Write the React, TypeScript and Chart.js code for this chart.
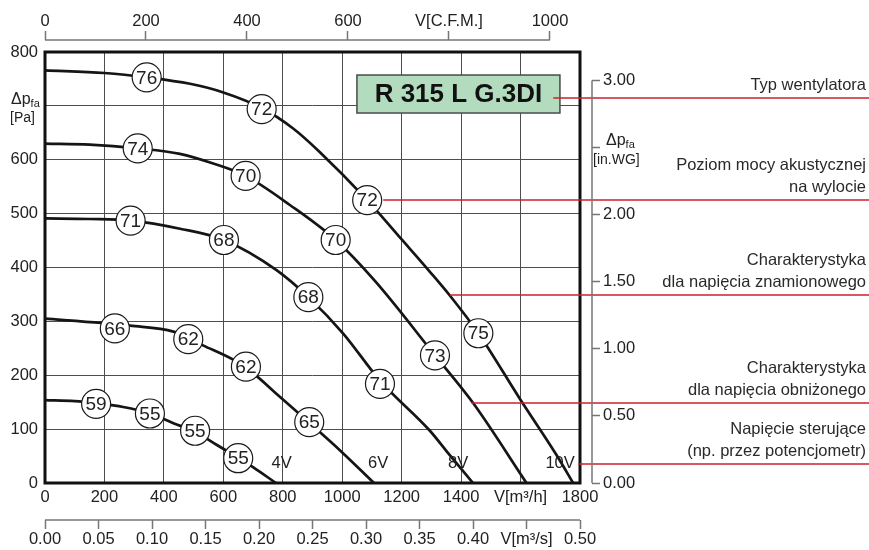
import React, { useEffect, useRef } from 'react';
import Chart from 'chart.js/auto';

// ---------- data (flow in m³/h, pressure in Pa) ----------
const curve10V_Q = [0, 200, 342, 488, 600, 729, 835, 925, 1084, 1200, 1295, 1362, 1458, 1598, 1721, 1777];
const curve10V_P = [766, 761, 753, 741, 725, 696, 658, 614, 525, 452, 392, 348, 278, 156, 52, 0];

const curve9V_Q = [0, 150, 312, 454, 566, 675, 824, 978, 1110, 1312, 1441, 1620];
const curve9V_P = [630, 628, 621, 611, 593, 570, 516, 451, 375, 237, 148, 0];

const curve8V_Q = [0, 150, 288, 454, 602, 779, 886, 1004, 1127, 1295, 1357, 1440];
const curve8V_P = [491, 490, 487, 472, 451, 395, 345, 277, 190, 97, 55, 0];

const curve6V_Q = [0, 191, 286, 432, 533, 639, 700, 790, 889, 992, 1107];
const curve6V_P = [305, 297, 292, 281, 255, 227, 204, 160, 112, 61, 0];

const curve4V_Q = [0, 100, 172, 263, 353, 432, 505, 577, 650, 701, 777];
const curve4V_P = [154, 152, 148, 141, 129, 111, 95, 71, 47, 29, 0];

// sound power level bubbles
const bubbleQ = [342, 729, 1084, 1458, 312, 675, 978, 1312, 288, 602, 886, 1127, 235, 482, 676, 889, 172, 353, 505, 650];
const bubbleP = [753, 694, 525, 278, 621, 570, 451, 237, 487, 451, 345, 184, 287, 267, 216, 113, 147, 129, 97, 46];
const bubbleLabels = ['76', '72', '72', '75', '74', '70', '70', '73', '71', '68', '68', '71', '66', '62', '62', '65', '59', '55', '55', '55'];

// control voltage labels
const voltageLabels = ['4V', '6V', '8V', '10V'];
const voltageQ = [796, 1121, 1390, 1733];
const voltageP = [37, 37, 37, 37];

// ticks
const flowTicks = [0, 200, 400, 600, 800, 1000, 1200, 1400, 1600, 1800];
const flowTickLabels = ['0', '200', '400', '600', '800', '1000', '1200', '1400', 'V[m³/h]', '1800'];
const cfmTicks = [0, 200, 400, 600, 800, 1000];
const cfmTickLabels = ['0', '200', '400', '600', 'V[C.F.M.]', '1000'];
const m3sTicks = [0, 0.05, 0.1, 0.15, 0.2, 0.25, 0.3, 0.35, 0.4, 0.45, 0.5];
const m3sTickLabels = ['0.00', '0.05', '0.10', '0.15', '0.20', '0.25', '0.30', '0.35', '0.40', 'V[m³/s]', '0.50'];
const paTicks = [0, 100, 200, 300, 400, 500, 600, 700, 800];
const paTickLabels = ['0', '100', '200', '300', '400', '500', '600', '', '800'];
const inwgTicks = [0, 0.5, 1, 1.5, 2, 2.5, 3];
const inwgTickLabels = ['0.00', '0.50', '1.00', '1.50', '2.00', '', '3.00'];

// model / annotations
const modelName = 'R 315 L G.3DI';
const modelQ = 1391;
const modelP = 722;
const leaderQ = [1710, 1138, 1362, 1435, 1794];
const leaderP = [714, 525, 349, 149, 35];
const leaderTexts = [
  ['Typ wentylatora'],
  ['Poziom mocy akustycznej', 'na wylocie'],
  ['Charakterystyka', 'dla napięcia znamionowego'],
  ['Charakterystyka', 'dla napięcia obniżonego'],
  ['Napięcie sterujące', '(np. przez potencjometr)'],
];

const FLOW_MAX = 1800;
const PA_MAX = 800;
const CFM_PER_M3H = 1.699011;
const PA_PER_INWG = 249.089;

const FONT = "'Liberation Sans', Arial, Helvetica, sans-serif";
const TEXT = '#222';
const AXIS_GRAY = '#767676';

function drawDp(ctx: CanvasRenderingContext2D, x: number, y: number) {
  ctx.textAlign = 'left';
  ctx.textBaseline = 'middle';
  ctx.font = `16px ${FONT}`;
  ctx.fillText('Δp', x, y);
  const w = ctx.measureText('Δp').width;
  ctx.font = `11px ${FONT}`;
  ctx.fillText('fa', x + w, y + 4);
}

const overlay = {
  id: 'overlay',
  beforeDatasetsDraw(chart: any) {
    const { ctx, chartArea: a } = chart;
    ctx.save();
    ctx.strokeStyle = '#111';
    ctx.lineWidth = 3;
    ctx.strokeRect(a.left, a.top, a.right - a.left, a.bottom - a.top);
    ctx.restore();
  },
  afterDatasetsDraw(chart: any) {
    const { ctx } = chart;
    const sx = chart.scales.x;
    const sy = chart.scales.y;
    ctx.save();

    // bubble labels
    const meta = chart.getDatasetMeta(0);
    ctx.fillStyle = TEXT;
    ctx.textAlign = 'center';
    ctx.textBaseline = 'middle';
    ctx.font = `19px ${FONT}`;
    meta.data.forEach((pt: any, i: number) => {
      ctx.fillText(bubbleLabels[i], pt.x, pt.y + 1);
    });

    // voltage labels
    ctx.font = `16.5px ${FONT}`;
    voltageLabels.forEach((t, i) => {
      ctx.fillText(t, sx.getPixelForValue(voltageQ[i]), sy.getPixelForValue(voltageP[i]));
    });

    // model box
    const bx = sx.getPixelForValue(modelQ);
    const by = sy.getPixelForValue(modelP);
    const bw = 203;
    const bh = 38;
    ctx.fillStyle = '#b3dcbf';
    ctx.fillRect(bx - bw / 2, by - bh / 2, bw, bh);
    ctx.strokeStyle = '#4a4a4a';
    ctx.lineWidth = 1.5;
    ctx.strokeRect(bx - bw / 2, by - bh / 2, bw, bh);
    ctx.fillStyle = '#111';
    ctx.font = `bold 26px ${FONT}`;
    ctx.textAlign = 'center';
    ctx.textBaseline = 'middle';
    ctx.fillText(modelName, bx, by + 1);

    // leader lines + descriptions
    leaderQ.forEach((q, i) => {
      const x0 = sx.getPixelForValue(q);
      const y0 = Math.round(sy.getPixelForValue(leaderP[i]));
      ctx.strokeStyle = '#cc1f2d';
      ctx.lineWidth = 1.5;
      ctx.beginPath();
      ctx.moveTo(x0, y0);
      ctx.lineTo(chart.width, y0);
      ctx.stroke();
      const lines = leaderTexts[i];
      ctx.fillStyle = '#2a2a2a';
      ctx.font = `16.5px ${FONT}`;
      ctx.textAlign = 'right';
      ctx.textBaseline = 'middle';
      lines.forEach((t, k) => {
        const fromBottom = lines.length - 1 - k;
        ctx.fillText(t, chart.width - 3, y0 - 13 - fromBottom * 22);
      });
    });

    // axis titles (Δp)
    ctx.fillStyle = TEXT;
    drawDp(ctx, 11, sy.getPixelForValue(700) - 6);
    ctx.font = `14px ${FONT}`;
    ctx.textAlign = 'left';
    ctx.fillText('[Pa]', 10, sy.getPixelForValue(700) + 12);
    const sw = chart.scales.inwg;
    drawDp(ctx, 606, sw.getPixelForValue(2.5) - 7);
    ctx.font = `14px ${FONT}`;
    ctx.textAlign = 'left';
    ctx.fillText('[in.WG]', 593, sw.getPixelForValue(2.5) + 13);

    // secondary axis lines
    ctx.strokeStyle = AXIS_GRAY;
    ctx.lineWidth = 1.5;
    const sc = chart.scales.cfm;
    ctx.beginPath();
    ctx.moveTo(sc.getPixelForValue(cfmTicks[0]), sc.bottom);
    ctx.lineTo(sc.getPixelForValue(cfmTicks[cfmTicks.length - 1]), sc.bottom);
    ctx.stroke();
    const sm = chart.scales.ms;
    ctx.beginPath();
    ctx.moveTo(sm.getPixelForValue(m3sTicks[0]), sm.top);
    ctx.lineTo(sm.getPixelForValue(m3sTicks[m3sTicks.length - 1]), sm.top);
    ctx.stroke();
    ctx.beginPath();
    ctx.moveTo(sw.left, sw.getPixelForValue(inwgTicks[inwgTicks.length - 1]));
    ctx.lineTo(sw.left, sw.getPixelForValue(inwgTicks[0]));
    ctx.stroke();

    ctx.restore();
  },
};

function curveDataset(q: number[], p: number[]) {
  return {
    type: 'line' as const,
    data: q.map((x, i) => ({ x, y: p[i] })),
    borderColor: '#151515',
    borderWidth: 2.7,
    pointRadius: 0,
    cubicInterpolationMode: 'monotone' as const,
    fill: false,
    xAxisID: 'x',
    yAxisID: 'y',
    order: 1,
  };
}

const tickFont = { size: 16.5, family: FONT };

export default function App() {
  const ref = useRef<HTMLCanvasElement>(null);
  useEffect(() => {
    const canvas = ref.current;
    if (!canvas) return;
    Chart.defaults.font.family = FONT;
    const chart = new Chart(canvas, {
      type: 'line',
      data: {
        datasets: [
          {
            type: 'line',
            data: bubbleQ.map((x, i) => ({ x, y: bubbleP[i] })),
            showLine: false,
            pointRadius: 14.5,
            pointStyle: 'circle',
            pointBackgroundColor: '#ffffff',
            pointBorderColor: '#1a1a1a',
            pointBorderWidth: 1.2,
            xAxisID: 'x',
            yAxisID: 'y',
            order: 0,
            clip: false,
          } as any,
          curveDataset(curve10V_Q, curve10V_P),
          curveDataset(curve9V_Q, curve9V_P),
          curveDataset(curve8V_Q, curve8V_P),
          curveDataset(curve6V_Q, curve6V_P),
          curveDataset(curve4V_Q, curve4V_P),
        ],
      },
      options: {
        responsive: false,
        animation: false,
        events: [],
        layout: { padding: 0 },
        plugins: { legend: { display: false }, tooltip: { enabled: false } },
        scales: {
          x: {
            type: 'linear',
            axis: 'x',
            position: 'bottom',
            weight: 0,
            min: 0,
            max: FLOW_MAX,
            afterBuildTicks: (s: any) => { s.ticks = flowTicks.map((v) => ({ value: v })); },
            afterFit: (s: any) => { s.height = 37; },
            grid: { color: '#4d4d4d', lineWidth: 1, drawTicks: false },
            border: { display: false },
            ticks: {
              autoSkip: false, maxRotation: 0, minRotation: 0, padding: 5, color: TEXT, font: tickFont,
              callback: (_v: any, i: number) => flowTickLabels[i],
            },
          },
          ms: {
            type: 'linear',
            axis: 'x',
            position: 'bottom',
            weight: 1,
            min: 0,
            max: FLOW_MAX / 3600,
            afterBuildTicks: (s: any) => { s.ticks = m3sTicks.map((v) => ({ value: v })); },
            afterFit: (s: any) => { s.height = 30; },
            grid: { drawOnChartArea: false, drawTicks: true, tickLength: 9, tickColor: AXIS_GRAY, tickWidth: 1.5 },
            border: { display: false },
            ticks: {
              autoSkip: false, maxRotation: 0, minRotation: 0, padding: 1, color: TEXT, font: tickFont,
              callback: (_v: any, i: number) => m3sTickLabels[i],
            },
          },
          topGap: {
            type: 'linear',
            axis: 'x',
            position: 'top',
            weight: 0,
            min: 0,
            max: 1,
            afterFit: (s: any) => { s.height = 12; },
            grid: { display: false },
            border: { display: false },
            ticks: { display: false },
          },
          cfm: {
            type: 'linear',
            axis: 'x',
            position: 'top',
            weight: 1,
            min: 0,
            max: FLOW_MAX / CFM_PER_M3H,
            afterBuildTicks: (s: any) => { s.ticks = cfmTicks.map((v) => ({ value: v })); },
            afterFit: (s: any) => { s.height = 40; },
            grid: { drawOnChartArea: false, drawTicks: true, tickLength: 9, tickColor: AXIS_GRAY, tickWidth: 1.5 },
            border: { display: false },
            ticks: {
              autoSkip: false, maxRotation: 0, minRotation: 0, padding: 0, color: TEXT, font: tickFont,
              callback: (_v: any, i: number) => cfmTickLabels[i],
            },
          },
          y: {
            type: 'linear',
            axis: 'y',
            position: 'left',
            min: 0,
            max: PA_MAX,
            afterBuildTicks: (s: any) => { s.ticks = paTicks.map((v) => ({ value: v })); },
            afterFit: (s: any) => { s.width = 45; },
            grid: { color: '#4d4d4d', lineWidth: 1, drawTicks: false },
            border: { display: false },
            ticks: {
              autoSkip: false, padding: 7, color: TEXT, font: tickFont,
              callback: (_v: any, i: number) => paTickLabels[i],
            },
          },
          rightGap: {
            type: 'linear',
            axis: 'y',
            position: 'right',
            weight: 0,
            min: 0,
            max: 1,
            afterFit: (s: any) => { s.width = 12; },
            grid: { display: false },
            border: { display: false },
            ticks: { display: false },
          },
          inwg: {
            type: 'linear',
            axis: 'y',
            position: 'right',
            weight: 1,
            min: 0,
            max: PA_MAX / PA_PER_INWG,
            afterBuildTicks: (s: any) => { s.ticks = inwgTicks.map((v) => ({ value: v })); },
            afterFit: (s: any) => { s.width = 277; },
            grid: { drawOnChartArea: false, drawTicks: true, tickLength: 8, tickColor: AXIS_GRAY, tickWidth: 1.5 },
            border: { display: false },
            ticks: {
              autoSkip: false, padding: 3, color: TEXT, font: tickFont,
              callback: (_v: any, i: number) => inwgTickLabels[i],
            },
          },
        },
      } as any,
      plugins: [overlay],
    });
    return () => chart.destroy();
  }, []);
  return (
    <canvas
      ref={ref}
      width={869}
      height={550}
      style={{ position: 'fixed', left: 0, top: 0, width: 869, height: 550, display: 'block', background: '#fff' }}
    />
  );
}
